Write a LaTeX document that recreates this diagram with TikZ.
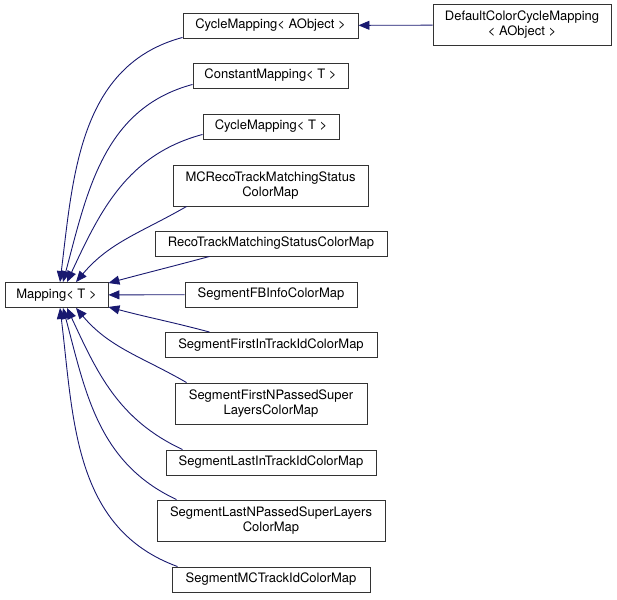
\documentclass[tikz,border=0pt]{standalone}
\usepackage{fontspec}
\setmainfont{TeX Gyre Heros}
\usetikzlibrary{arrows.meta, positioning}
\definecolor{edgeblue}{HTML}{191970}
\tikzset{
  x=1pt, y=1pt,
  cls/.style={draw=black!80, line width=0.9pt, fill=white, align=center,
    inner sep=0pt, minimum height=25pt, font=\fontsize{13}{15}\selectfont},
  tall/.style={minimum height=41pt},
  inh/.style={edgeblue, line width=0.9pt, -{Triangle[length=11pt,width=9pt]}},
}

\begin{document}
\begin{tikzpicture}
  \useasboundingbox (0,0) rectangle (617,-599);

  % base class
  \node[cls, minimum width=103pt] (map) at (56.5,-295) {Mapping< T >};

  % derived classes
  \node[cls, minimum width=175pt] (cycao) at (270.5,-25.5) {CycleMapping< AObject >};
  \node[cls, tall, minimum width=178pt] (defcol) at (522,-25) {DefaultColorCycleMapping\\< AObject >};
  \node[cls, minimum width=155pt] (const) at (270.5,-75.5) {ConstantMapping< T >};
  \node[cls, minimum width=136pt] (cyct) at (271,-126.5) {CycleMapping< T >};
  \node[cls, tall, minimum width=195pt] (mcreco) at (270.5,-185.5) {MCRecoTrackMatchingStatus\\ColorMap};
  \node[cls, minimum width=232pt] (reco) at (271,-243.5) {RecoTrackMatchingStatusColorMap};
  \node[cls, minimum width=172pt] (fbinfo) at (271,-294.5) {SegmentFBInfoColorMap};
  \node[cls, minimum width=212pt] (firstin) at (271,-345) {SegmentFirstInTrackIdColorMap};
  \node[cls, tall, minimum width=192pt] (firstnp) at (271,-403.5) {SegmentFirstNPassedSuper\\LayersColorMap};
  \node[cls, minimum width=210pt] (lastin) at (271,-462.5) {SegmentLastInTrackIdColorMap};
  \node[cls, tall, minimum width=228pt] (lastnp) at (271,-520.5) {SegmentLastNPassedSuperLayers\\ColorMap};
  \node[cls, minimum width=198pt] (mctrack) at (271,-579.5) {SegmentMCTrackIdColorMap};

  % inheritance arrows
  \draw[inh] (defcol) -- (cycao);
  \draw[inh] ([yshift=1pt]cycao.south west) to[out=195, in=83] ([xshift=3.5pt]map.north);
  \draw[inh] ([yshift=4pt]const.south west) to[out=195, in=75] ([xshift=6.5pt]map.north);
  \draw[inh] ([yshift=5pt]cyct.south west) to[out=195, in=65] ([xshift=10.5pt]map.north);
  \draw[inh] ([xshift=14pt]mcreco.south west) to[out=210, in=50] ([xshift=19.5pt]map.north);
  \draw[inh] ([xshift=55pt]reco.south west) to[out=195, in=15] ([yshift=-1pt]map.north east);
  \draw[inh] (fbinfo) -- (map);
  \draw[inh] ([xshift=45pt]firstin.north west) to[out=165, in=-15] ([yshift=1pt]map.south east);
  \draw[inh] ([xshift=12pt]firstnp.north west) to[out=150, in=-50] ([xshift=19.5pt]map.south);
  \draw[inh] ([xshift=17pt]lastin.north west) to[out=155, in=-65] ([xshift=10.5pt]map.south);
  \draw[inh] ([xshift=20pt]lastnp.north west) to[out=155, in=-75] ([xshift=6.5pt]map.south);
  \draw[inh] ([xshift=6pt]mctrack.north west) to[out=160, in=-83] ([xshift=3.5pt]map.south);
\end{tikzpicture}
\end{document}
